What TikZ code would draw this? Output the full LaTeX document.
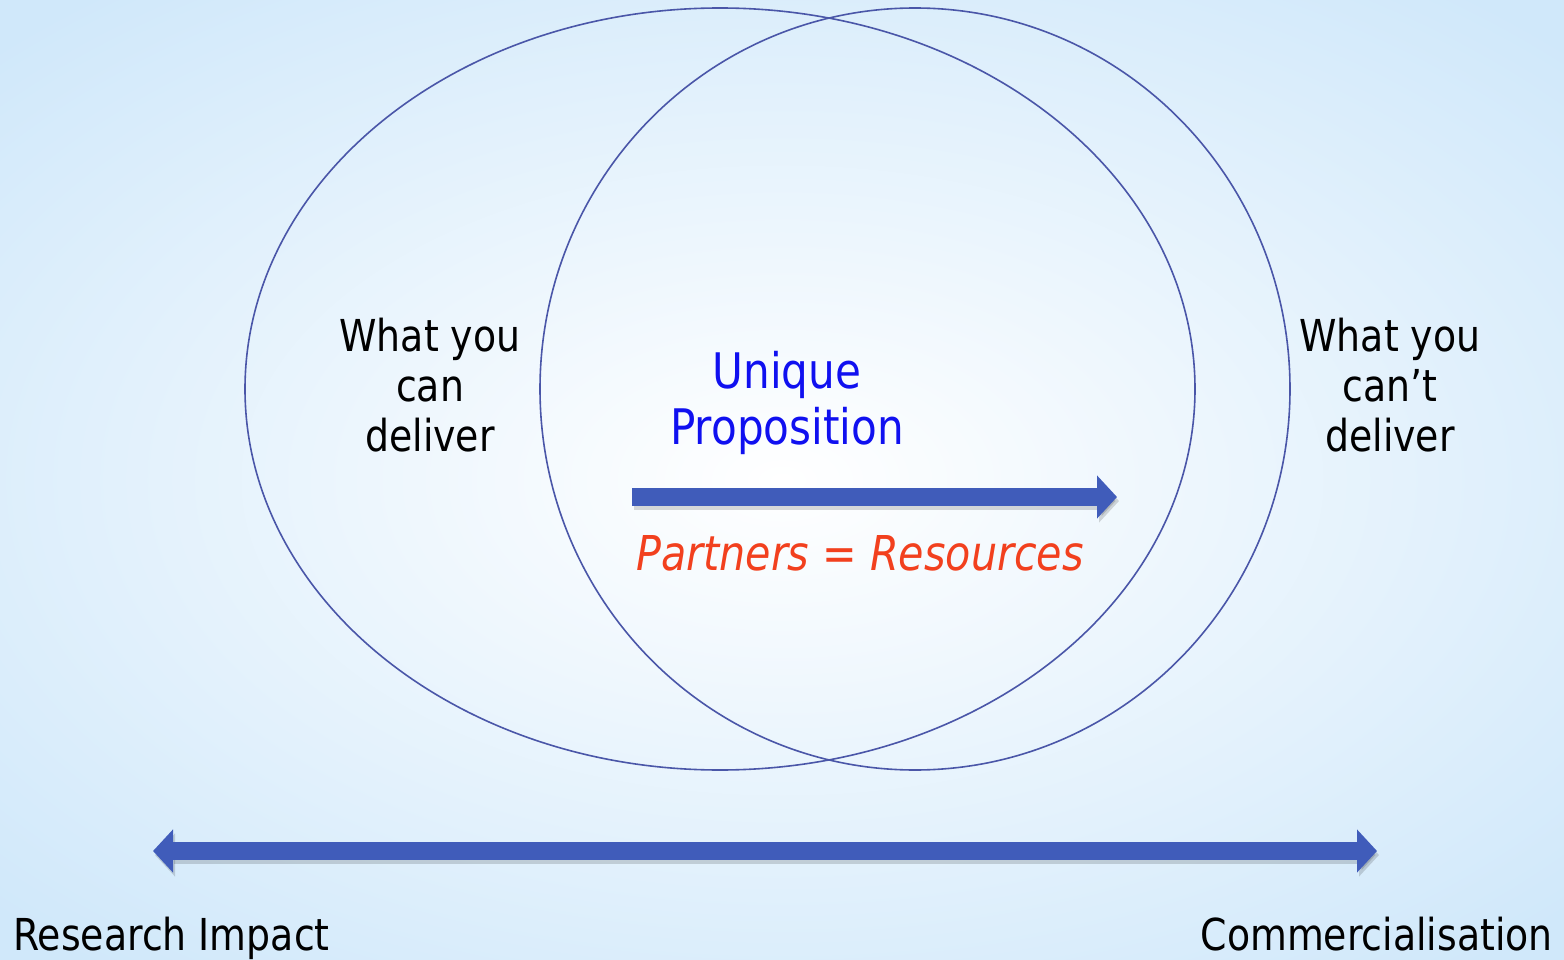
\documentclass[tikz,border=0pt]{standalone}
\usepackage{fontspec}
\setmainfont{DejaVu Sans}[FakeStretch=0.86]
\usetikzlibrary{arrows.meta, positioning, shapes.geometric}
\usepackage{xcolor}
\definecolor{bgblue}{RGB}{208,232,250}
\definecolor{ringblue}{RGB}{74,86,168}
\definecolor{arrowblue}{RGB}{64,92,186}
\definecolor{propblue}{RGB}{16,16,240}
\definecolor{partnerred}{RGB}{242,64,30}

\begin{document}
\begin{tikzpicture}[x=1pt,y=-1pt,
  ring/.style={ellipse,draw=ringblue,line width=1.6pt,inner sep=0pt,outer sep=0pt},
  words/.style={align=center,inner sep=0pt,font=\fontsize{44}{50}\selectfont},
  fatarrow/.style={draw=arrowblue,line width=18pt},
  shadowline/.style={draw=black,opacity=0.15,line width=18pt}]

  % background
  \useasboundingbox (0,0) rectangle (1564,960);
  \shade[inner color=white,outer color=bgblue] (-300,-150) rectangle (1864,1110);

  % the two rings
  \node[ring,minimum width=950pt,minimum height=762pt] (canring)  at (720,389) {};
  \node[ring,minimum width=750pt,minimum height=762pt] (cantring) at (915,389) {};

  \node[words]                  (can)    at (430,385)  {What you\\can\\deliver};
  \node[words]                  (cant)   at (1390,385) {What you\\can’t\\deliver};
  \node[words,text=propblue,font=\fontsize{49}{56}\selectfont]
                                (unique) at (787,403)  {Unique\\Proposition};

  % partner arrow
  \coordinate (pstart) at (632,497);
  \coordinate (pend)   at (1117,497);
  \draw[shadowline,-{Triangle[length=20pt,width=42pt]}] ([shift={(2,4)}]pstart) -- ([shift={(2,4)}]pend);
  \draw[fatarrow,-{Triangle[length=20pt,width=42pt]}] (pstart) -- (pend);
  \node[words,text=partnerred,font=\fontsize{48}{50}\selectfont\itshape]
        (partners) at (860,553) {Partners = Resources};

  % research to market arrow
  \coordinate (rleft)  at (153,851);
  \coordinate (rright) at (1377,851);
  \draw[shadowline,{Triangle[length=20pt,width=42pt]}-{Triangle[length=20pt,width=42pt]}]
    ([shift={(2,4)}]rleft) -- ([shift={(2,4)}]rright);
  \draw[fatarrow,{Triangle[length=20pt,width=42pt]}-{Triangle[length=20pt,width=42pt]}]
    (rleft) -- (rright);

  \node[words,anchor=base west] (research) at (13,950)   {Research Impact};
  \node[words,anchor=base east] (commerce) at (1553,950) {Commercialisation};
\end{tikzpicture}
\end{document}
